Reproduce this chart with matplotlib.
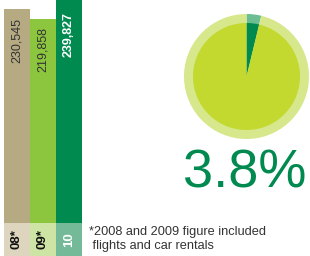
import matplotlib
matplotlib.use("Agg")
import matplotlib.pyplot as plt

# Data
years = ["08*", "09*", "10"]
values = [230545, 219858, 239827]
value_labels = ["230,545", "219,858", "239,827"]
share_pct = 3.8
footnote = "*2008 and 2009 figure included\n flights and car rentals"

bar_colors = ["#b6aa82", "#8cc63e", "#008a50"]
box_colors = ["#ddd5bd", "#cde4a4", "#74b998"]
text_colors = ["#333333", "#333333", "#ffffff"]
label_colors = ["#111111", "#111111", "#ffffff"]
value_weights = ["normal", "normal", "bold"]

W, H = 310, 256
fig = plt.figure(figsize=(W / 100, H / 100), dpi=100)

def px_axes(x0, y0, x1, y1):
    return fig.add_axes([x0 / W, 1 - y1 / H, (x1 - x0) / W, (y1 - y0) / H])

# Bars
ax = px_axes(4, 0, 82, 222.7)
xs = range(len(values))
ax.bar(xs, values, width=1.0, color=bar_colors, align="center")
ax.set_xlim(-0.5, len(values) - 0.5)
ax.set_ylim(0, max(values))
ax.axis("off")
offsets_px = [9, 8, 12]
sizes = [9, 9, 9]
for i, (v, lab) in enumerate(zip(values, value_labels)):
    ax.annotate(lab, xy=(i, v), xytext=(0, -offsets_px[i] * 0.72),
                textcoords="offset points", rotation=90, ha="center", va="top",
                fontsize=sizes[i], color=text_colors[i], fontweight=value_weights[i],
                family="Liberation Sans")

# Year boxes
axb = px_axes(4, 222.7, 82, 256)
axb.bar(xs, [1] * len(years), width=1.0, color=box_colors)
axb.set_xlim(-0.5, len(years) - 0.5)
axb.set_ylim(0, 1)
axb.axis("off")
for i, y in enumerate(years):
    axb.text(i, 0.5, y, rotation=90, ha="center", va="center", fontsize=9.5,
             fontweight="bold", color=label_colors[i], family="Liberation Sans")

# Pie
axp = px_axes(184, 14, 309, 139)
outer = [share_pct, 100 - share_pct]
axp.pie(outer, radius=1.0, colors=["#6dbd92", "#d6e78c"], startangle=90,
        counterclock=False, wedgeprops=dict(linewidth=0))
axp.pie(outer, radius=0.856, colors=["#008a50", "#c3d92f"], startangle=90,
        counterclock=False, wedgeprops=dict(linewidth=0))
axp.set_xlim(-1, 1)
axp.set_ylim(-1, 1)
axp.set_aspect("equal")
axp.axis("off")

fig.text(245 / W, 1 - 174 / H, f"{share_pct}%", ha="center", va="center",
         fontsize=39, color="#008a50", family="Liberation Sans")

fig.text(89 / W, 1 - 239 / H, footnote, ha="left", va="center", fontsize=9.2,
         color="#333333", family="Liberation Sans", linespacing=1.15)

fig.savefig("out.png", dpi=100)
